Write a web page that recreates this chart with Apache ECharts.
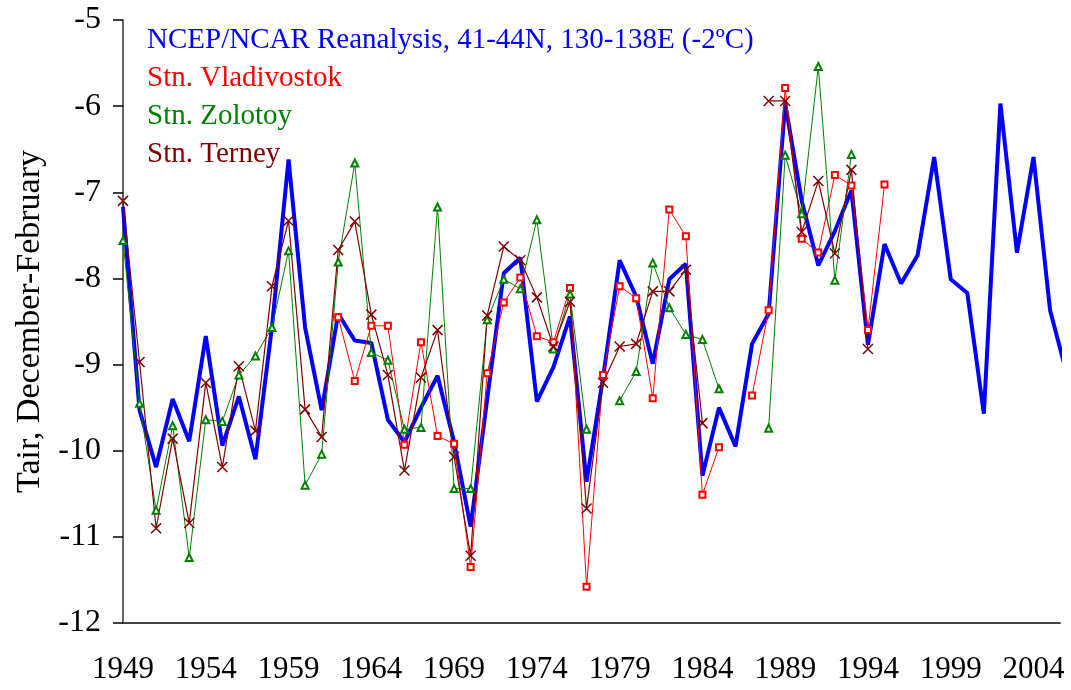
<!DOCTYPE html>
<html>
<head>
<meta charset="utf-8">
<script src="https://cdn.jsdelivr.net/npm/echarts@6/dist/echarts.min.js"></script>
<style>
  html, body { margin: 0; padding: 0; background: #fff; }
  #chart { width: 1071px; height: 690px; }
</style>
</head>
<body>
<div id="chart"></div>
<script>
// winters 1949..2006 (December-February)
var firstYear = 1949;

var ncep = [
  -7.17, -9.53, -10.19, -9.40, -9.89, -8.67, -9.94, -9.37, -10.10, -8.56,
  -6.62, -8.57, -9.53, -8.41, -8.72, -8.75, -9.64, -9.90, -9.50, -9.13,
  -9.90, -10.88, -9.40, -7.94, -7.76, -9.43, -9.03, -8.44, -10.36, -9.15,
  -7.79, -8.21, -8.99, -8.01, -7.83, -10.29, -9.50, -9.95, -8.76, -8.41,
  -5.97, -7.10, -7.85, -7.45, -6.98, -8.77, -7.60, -8.06, -7.73, -6.59,
  -8.01, -8.17, -9.57, -5.97, -7.70, -6.59, -8.37, -9.10
];

var vladivostok = [
  null, null, null, null, null, null, null, null, null, null,
  null, null, null, -8.45, -9.19, -8.55, -8.55, -9.93, -8.74, -9.83,
  -9.92, -11.35, -9.10, -8.28, -7.99, -8.67, -8.74, -8.11, -11.58, -9.12,
  -8.09, -8.23, -9.39, -7.20, -7.51, -10.51, -9.96, null, -9.36, -8.37,
  -5.79, -7.54, -7.70, -6.80, -6.92, -8.60, -6.91
];

var zolotoy = [
  -7.56, -9.45, -10.69, -9.71, -11.24, -9.64, -9.66, -9.12, -8.90, -8.57,
  -7.68, -10.40, -10.04, -7.81, -6.66, -8.86, -8.95, -9.75, -9.73, -7.17,
  -10.44, -10.44, -8.48, -8.01, -8.12, -7.32, -8.82, -8.18, -9.75, null,
  -9.42, -9.08, -7.82, -8.34, -8.65, -8.71, -9.28, null, null, -9.74,
  -6.57, -7.25, -5.54, -8.02, -6.56
];

var terney = [
  -7.10, -8.97, -10.90, -9.86, -10.84, -9.21, -10.19, -9.02, -9.77, -8.09,
  -7.33, -9.52, -9.84, -7.67, -7.34, -8.42, -9.12, -10.23, -9.15, -8.60,
  -10.07, -11.22, -8.43, -7.63, -7.79, -8.22, -8.79, -8.27, -10.67, -9.21,
  -8.79, -8.76, -8.15, -8.15, -7.90, -9.68, null, null, null, -5.94,
  -5.94, -7.46, -6.87, -7.71, -6.74, -8.82
];

var seriesNames = [
  'NCEP/NCAR Reanalysis, 41-44N, 130-138E (-2ºC)',
  'Stn. Vladivostok',
  'Stn. Zolotoy',
  'Stn. Terney'
];
var seriesColors = ['#0000ff', '#ff0000', '#008000', '#800000'];

function pairs(arr) {
  return arr.map(function (v, i) {
    return [firstYear + i, v === null ? '-' : v];
  });
}

var font = '"Liberation Serif", "Times New Roman", serif';
var myChart = echarts.init(document.getElementById('chart'));

var option = {
  animation: false,
  backgroundColor: '#fff',
  textStyle: { fontFamily: font },
  grid: { left: 123, right: 11, top: 20, bottom: 67 },
  legend: {
    orient: 'vertical',
    left: 136,
    top: 21,
    itemWidth: 0,
    itemHeight: 0,
    itemGap: 9,
    selectedMode: false,
    textStyle: { fontFamily: font, fontSize: 29 },
    data: seriesNames.map(function (n, i) {
      return { name: n, icon: 'rect', textStyle: { color: seriesColors[i] } };
    })
  },
  xAxis: {
    type: 'value',
    min: 1949,
    max: 2005.6,
    interval: 5,
    splitLine: { show: false },
    axisTick: { show: false },
    axisLine: { lineStyle: { color: '#444', width: 2 } },
    axisLabel: {
      margin: 31,
      color: '#000',
      fontFamily: font,
      fontSize: 31,
      showMaxLabel: false,
      formatter: function (v) {
        return (v - 1949) % 5 === 0 ? String(v) : '';
      }
    }
  },
  yAxis: {
    type: 'value',
    min: -12,
    max: -5,
    interval: 1,
    name: 'Tair, December-February',
    nameLocation: 'middle',
    nameGap: 76,
    nameTextStyle: { fontFamily: font, fontSize: 34, color: '#000' },
    splitLine: { show: false },
    axisLine: { show: true, lineStyle: { color: '#666', width: 2 } },
    axisTick: { show: true, inside: false, length: 10, lineStyle: { color: '#000', width: 1.5 } },
    axisLabel: { margin: 22, color: '#000', fontFamily: font, fontSize: 32 }
  },
  series: [
    {
      name: seriesNames[0],
      type: 'line',
      data: pairs(ncep),
      symbol: 'none',
      clip: true,
      lineStyle: { color: seriesColors[0], width: 4 },
      itemStyle: { color: seriesColors[0] }
    },
    {
      name: seriesNames[1],
      type: 'line',
      data: pairs(vladivostok),
      symbol: 'emptyRect',
      symbolSize: 6,
      connectNulls: false,
      lineStyle: { color: seriesColors[1], width: 1 },
      itemStyle: { color: seriesColors[1], borderColor: seriesColors[1], borderWidth: 1.5 }
    },
    {
      name: seriesNames[2],
      type: 'line',
      data: pairs(zolotoy),
      symbol: 'emptyTriangle',
      symbolSize: 7,
      connectNulls: false,
      lineStyle: { color: seriesColors[2], width: 1 },
      itemStyle: { color: seriesColors[2], borderColor: seriesColors[2], borderWidth: 1.5 }
    },
    {
      name: seriesNames[3],
      type: 'line',
      data: pairs(terney),
      symbol: 'path://M0,0L10,10M10,0L0,10',
      symbolSize: 10,
      connectNulls: false,
      lineStyle: { color: seriesColors[3], width: 1.2 },
      itemStyle: { color: seriesColors[3], borderColor: seriesColors[3], borderWidth: 1.5 }
    }
  ]
};

myChart.setOption(option);
</script>
</body>
</html>
